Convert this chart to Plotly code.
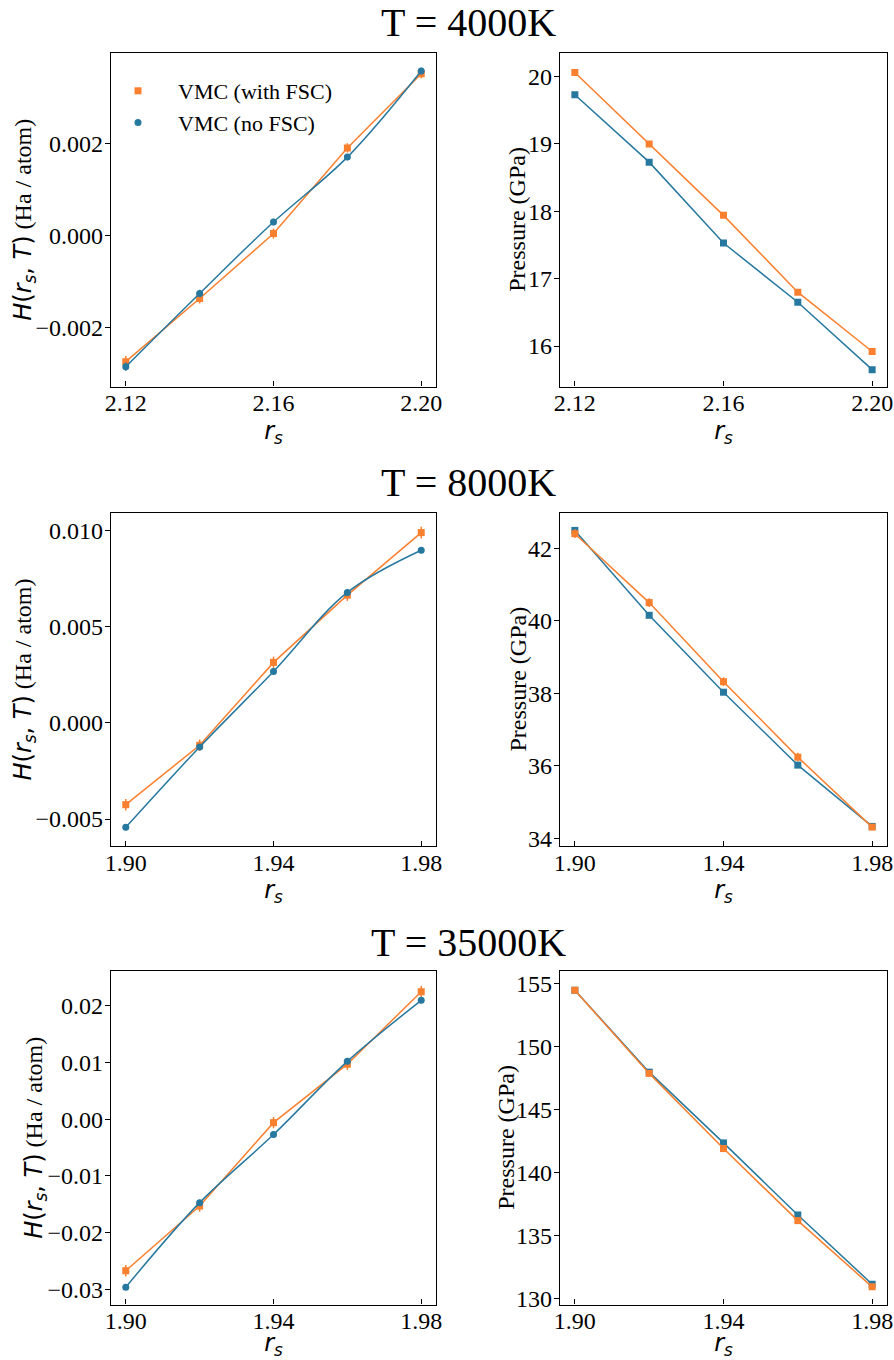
import plotly.graph_objects as go

# ---- colours ----
ORANGE = "#fa7f2e"
BLUE = "#26789f"

# ---- densities (Wigner-Seitz radius) ----
rs_4000 = [2.12, 2.14, 2.16, 2.18, 2.20]
rs_8000 = [1.90, 1.92, 1.94, 1.96, 1.98]
rs_35000 = [1.90, 1.92, 1.94, 1.96, 1.98]

# ---- H(rs, T) in Ha / atom ----
h_fsc_4000 = [-0.00274, -0.00137, 0.00004, 0.00190, 0.00351]
h_fsc_err_4000 = [0.00012, 0.00011, 0.00011, 0.00010, 0.00010]
h_nofsc_4000 = [-0.00285, -0.00126, 0.00029, 0.00170, 0.00357]
h_nofsc_err_4000 = [0.00009, 0.00008, 0.00007, 0.00007, 0.00007]

h_fsc_8000 = [-0.00425, -0.00116, 0.00315, 0.00665, 0.00990]
h_fsc_err_8000 = [0.00030, 0.00030, 0.00030, 0.00030, 0.00030]
h_nofsc_8000 = [-0.00543, -0.00125, 0.00268, 0.00679, 0.00898]
h_nofsc_err_8000 = [0.00015, 0.00015, 0.00015, 0.00015, 0.00015]

h_fsc_35000 = [-0.0267, -0.0153, -0.0006, 0.0097, 0.02247]
h_fsc_err_35000 = [0.0010, 0.0010, 0.0010, 0.0010, 0.0010]
h_nofsc_35000 = [-0.0296, -0.0147, -0.0027, 0.0102, 0.02095]
h_nofsc_err_35000 = [0.0005, 0.0005, 0.0005, 0.0005, 0.0005]

# ---- pressure in GPa ----
p_fsc_4000 = [20.06, 19.00, 17.94, 16.80, 15.92]
p_fsc_err_4000 = [0.03, 0.03, 0.03, 0.03, 0.03]
p_nofsc_4000 = [19.73, 18.73, 17.53, 16.65, 15.65]
p_nofsc_err_4000 = [0.02, 0.02, 0.02, 0.02, 0.02]

p_fsc_8000 = [42.40, 40.50, 38.32, 36.24, 34.31]
p_fsc_err_8000 = [0.12, 0.12, 0.12, 0.12, 0.08]
p_nofsc_8000 = [42.49, 40.15, 38.03, 36.02, 34.33]
p_nofsc_err_8000 = [0.05, 0.05, 0.05, 0.05, 0.05]

p_fsc_35000 = [154.45, 147.85, 141.88, 136.16, 130.90]
p_fsc_err_35000 = [0.20, 0.20, 0.20, 0.20, 0.20]
p_nofsc_35000 = [154.45, 147.95, 142.33, 136.61, 131.11]
p_nofsc_err_35000 = [0.15, 0.15, 0.15, 0.15, 0.15]

temperatures = ["T = 4000K", "T = 8000K", "T = 35000K"]
legend_labels = ["VMC (with FSC)", "VMC (no FSC)"]

W, H = 894, 1360
SERIF = "Liberation Serif"
MATH = "DejaVu Sans"


def px_x(a, b):
    return [a / W, b / W]


def px_y(top, bottom):
    return [1 - bottom / H, 1 - top / H]


left_dom = px_x(111, 436)
right_dom = px_x(560, 887)
row_doms = [px_y(53, 386.5), px_y(513, 846), px_y(971, 1304.5)]
title_y = [22, 482, 942]
# horizontal centres of the rotated y-axis titles (px)
h_title_x = [25, 24, 36]
p_title_x = [517, 517, 506]

rows = [
    dict(rs=rs_4000, hf=h_fsc_4000, hfe=h_fsc_err_4000, hn=h_nofsc_4000, hne=h_nofsc_err_4000,
         pf=p_fsc_4000, pfe=p_fsc_err_4000, pn=p_nofsc_4000, pne=p_nofsc_err_4000,
         xr=[2.116, 2.204], xt=[2.12, 2.16, 2.20],
         hr=[-0.00328, 0.00396], hd=0.002, hfmt=".3f",
         pr=[15.40, 20.35], pd=1, pfmt="d"),
    dict(rs=rs_8000, hf=h_fsc_8000, hfe=h_fsc_err_8000, hn=h_nofsc_8000, hne=h_nofsc_err_8000,
         pf=p_fsc_8000, pfe=p_fsc_err_8000, pn=p_nofsc_8000, pne=p_nofsc_err_8000,
         xr=[1.896, 1.984], xt=[1.90, 1.94, 1.98],
         hr=[-0.0064, 0.01092], hd=0.005, hfmt=".3f",
         pr=[33.79, 42.97], pd=2, pfmt="d"),
    dict(rs=rs_35000, hf=h_fsc_35000, hfe=h_fsc_err_35000, hn=h_nofsc_35000, hne=h_nofsc_err_35000,
         pf=p_fsc_35000, pfe=p_fsc_err_35000, pn=p_nofsc_35000, pne=p_nofsc_err_35000,
         xr=[1.896, 1.984], xt=[1.90, 1.94, 1.98],
         hr=[-0.03265, 0.02612], hd=0.01, hfmt=".2f",
         pr=[129.5, 155.98], pd=5, pfmt="d"),
]

fig = go.Figure()
layout = dict(
    width=W, height=H,
    margin=dict(l=0, r=0, t=0, b=0),
    paper_bgcolor="white", plot_bgcolor="white",
    font=dict(family=SERIF, size=24, color="black"),
    showlegend=True,
    legend=dict(x=98 / W, y=1 - 70 / H, xanchor="left", yanchor="top",
                bgcolor="rgba(0,0,0,0)", font=dict(family=SERIF, size=22),
                itemwidth=70, tracegroupgap=0),
    annotations=[],
)

h_title = (f'<span style="font-family:{MATH}"><i>H</i>(<i>r<sub>s</sub></i>, <i>T</i>)</span>'
           ' (Ha / atom)')
x_title = f'<span style="font-family:{MATH}"><i>r<sub>s</sub></i></span>'


def axis_common(dom, rng):
    return dict(domain=dom, range=rng, showline=True, linecolor="black", linewidth=1.2,
                mirror=True, showgrid=False, zeroline=False, automargin=False,
                tickfont=dict(family=SERIF, size=24, color="black"), tickcolor="black")


def y_title(text, x_px, dom):
    return dict(text=text, textangle=-90, x=x_px / W, y=(dom[0] + dom[1]) / 2,
                xref="paper", yref="paper", xanchor="center", yanchor="middle",
                showarrow=False, font=dict(family=SERIF, size=24, color="black"))


err_style = dict(type="data", thickness=1.5, width=0, visible=True)

for i, r in enumerate(rows):
    ax_l = 2 * i + 1
    ax_r = 2 * i + 2
    xl = "x" if ax_l == 1 else f"x{ax_l}"
    yl = "y" if ax_l == 1 else f"y{ax_l}"
    xr_ = f"x{ax_r}"
    yr_ = f"y{ax_r}"

    # H(rs, T) panel
    fig.add_trace(go.Scatter(
        x=r["rs"], y=r["hf"], mode="lines+markers", name=legend_labels[0],
        line=dict(color=ORANGE, width=1.5),
        marker=dict(symbol="square", size=7, color=ORANGE),
        error_y=dict(array=r["hfe"], color=ORANGE, **err_style),
        xaxis=xl, yaxis=yl, showlegend=False))
    fig.add_trace(go.Scatter(
        x=r["rs"], y=r["hn"], mode="lines+markers", name=legend_labels[1],
        line=dict(color=BLUE, width=1.5, shape="spline", smoothing=1.0),
        marker=dict(symbol="circle", size=7, color=BLUE),
        error_y=dict(array=r["hne"], color=BLUE, **err_style),
        xaxis=xl, yaxis=yl, showlegend=False))

    # pressure panel
    fig.add_trace(go.Scatter(
        x=r["rs"], y=r["pn"], mode="lines+markers", name=legend_labels[1],
        line=dict(color=BLUE, width=1.5),
        marker=dict(symbol="square", size=7, color=BLUE),
        error_y=dict(array=r["pne"], color=BLUE, **err_style),
        xaxis=xr_, yaxis=yr_, showlegend=False))
    fig.add_trace(go.Scatter(
        x=r["rs"], y=r["pf"], mode="lines+markers", name=legend_labels[0],
        line=dict(color=ORANGE, width=1.5),
        marker=dict(symbol="square", size=7, color=ORANGE),
        error_y=dict(array=r["pfe"], color=ORANGE, **err_style),
        xaxis=xr_, yaxis=yr_, showlegend=False))

    dom_y = row_doms[i]
    xkw = dict(tickvals=r["xt"], tickformat=".2f", ticks="inside", ticklen=5,
               ticklabelstandoff=-5,
               title=dict(text=x_title, font=dict(family=MATH, size=24), standoff=6))

    layout["xaxis" if ax_l == 1 else f"xaxis{ax_l}"] = dict(
        axis_common(left_dom, r["xr"]), anchor=yl, **xkw)
    layout["yaxis" if ax_l == 1 else f"yaxis{ax_l}"] = dict(
        axis_common(dom_y, r["hr"]), anchor=xl, dtick=r["hd"], tick0=0,
        tickformat=r["hfmt"], ticks="outside", ticklen=5, ticklabelstandoff=-3)
    layout[f"xaxis{ax_r}"] = dict(axis_common(right_dom, r["xr"]), anchor=yr_, **xkw)
    layout[f"yaxis{ax_r}"] = dict(
        axis_common(dom_y, r["pr"]), anchor=xr_, dtick=r["pd"], tick0=0,
        tickformat=r["pfmt"], ticks="outside", ticklen=5, ticklabelstandoff=-3)

    layout["annotations"].append(y_title(h_title, h_title_x[i], dom_y))
    layout["annotations"].append(y_title("Pressure (GPa)", p_title_x[i], dom_y))
    layout["annotations"].append(dict(
        text=temperatures[i], x=468.5 / W, y=1 - title_y[i] / H, xref="paper", yref="paper",
        xanchor="center", yanchor="middle", showarrow=False,
        font=dict(family=SERIF, size=40, color="black")))

# legend entries: marker symbols of the first panel
fig.add_trace(go.Scatter(
    x=[None], y=[None], mode="markers", name=legend_labels[0],
    marker=dict(symbol="square", size=7, color=ORANGE), xaxis="x", yaxis="y",
    showlegend=True))
fig.add_trace(go.Scatter(
    x=[None], y=[None], mode="markers", name=legend_labels[1],
    marker=dict(symbol="circle", size=7, color=BLUE), xaxis="x", yaxis="y",
    showlegend=True))

fig.update_layout(**layout)
fig.write_html("out.html")
